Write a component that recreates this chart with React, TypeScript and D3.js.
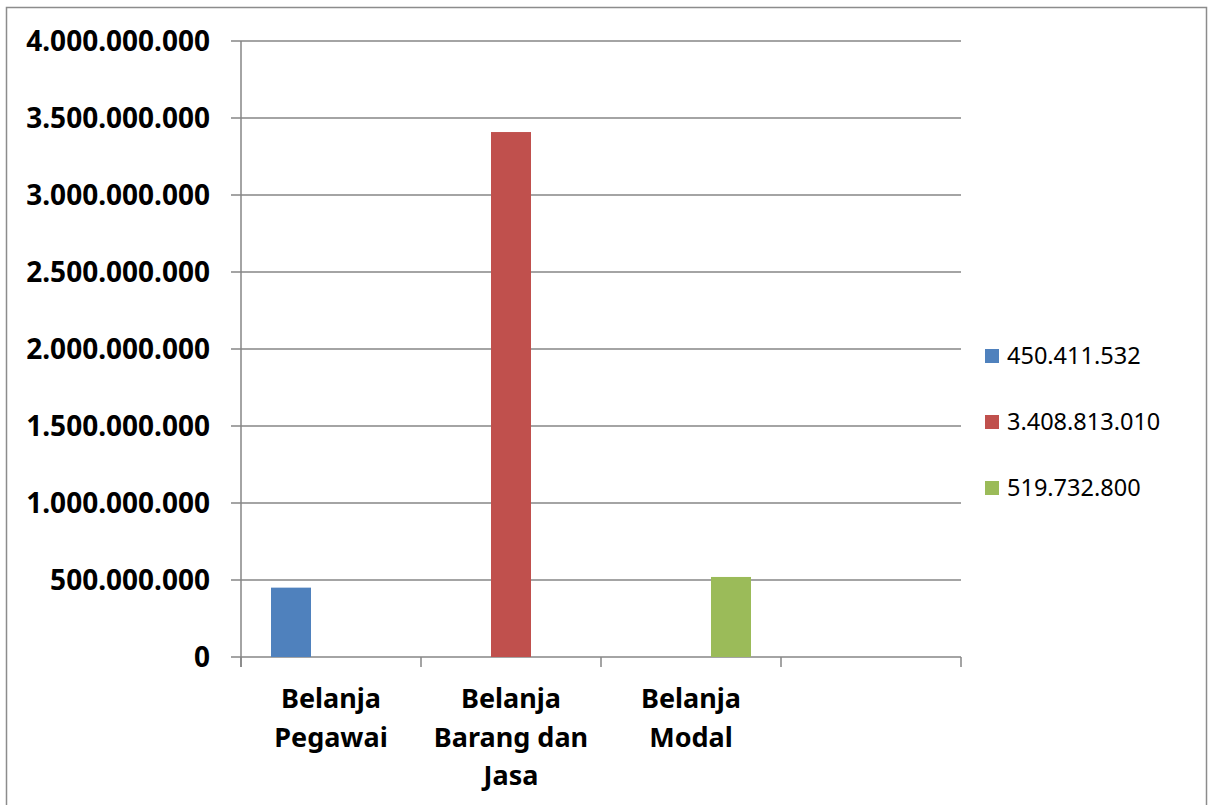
import React from 'react';
import * as d3 from 'd3';

const categories = ['Belanja Pegawai', 'Belanja Barang dan Jasa', 'Belanja Modal', ''];
const categoryLines = [['Belanja', 'Pegawai'], ['Belanja', 'Barang dan', 'Jasa'], ['Belanja', 'Modal'], []];
const seriesNames = ['450.411.532', '3.408.813.010', '519.732.800'];
// one value per series, each sitting in its own category
const seriesValues = [
  [450411532, null, null, null],
  [null, 3408813010, null, null],
  [null, null, 519732800, null],
];
const seriesColors = ['#4F81BD', '#C0504D', '#9BBB59'];
const yTicks = [0, 500000000, 1000000000, 1500000000, 2000000000, 2500000000, 3000000000, 3500000000, 4000000000];

const W = 1214;
const H = 805;
const plot = { left: 241, right: 961, top: 41, bottom: 657 };
const font = '"Noto Sans", "Open Sans", sans-serif';
const gridColor = '#868686';

const fmt = (v: number) => d3.format(',')(v).replace(/,/g, '.');

const App: React.FC = () => {
  const x = d3.scaleBand<string>()
    .domain(categories.map((c, i) => String(i)))
    .range([plot.left, plot.right])
    .paddingInner(0)
    .paddingOuter(0);

  // Excel gap width 150% -> half a gap (0.75 bar) on each side
  const inner = d3.scaleBand<string>()
    .domain(seriesNames.map((s, i) => String(i)))
    .range([0, x.bandwidth()])
    .paddingOuter(0.75)
    .paddingInner(0);

  const y = d3.scaleLinear().domain([0, 4000000000]).range([plot.bottom, plot.top]);

  const catEdges = d3.range(categories.length + 1).map((i) => plot.left + i * x.bandwidth());

  return (
    <svg width={W} height={H} style={{ position: 'absolute', left: 0, top: 0 }}>
      <rect x={0} y={0} width={W} height={H} fill="#fff" />
      <rect x={6.5} y={7.5} width={1200} height={H} fill="none" stroke="#8c8c8c" strokeWidth={1.5} />

      {yTicks.map((t) => (
        <g key={t}>
          <line x1={plot.left - 10} x2={plot.right} y1={y(t)} y2={y(t)} stroke={gridColor} strokeWidth={1.5} />
          <text x={210} y={y(t)} dy="0.36em" textAnchor="end" fontFamily={font} fontWeight="bold" fontSize={28} fill="#000">
            {fmt(t)}
          </text>
        </g>
      ))}

      <line x1={plot.left} x2={plot.left} y1={plot.top} y2={plot.bottom + 10} stroke={gridColor} strokeWidth={1.5} />
      {catEdges.map((e, i) => (
        <line key={i} x1={e} x2={e} y1={plot.bottom} y2={plot.bottom + 10} stroke={gridColor} strokeWidth={1.5} />
      ))}

      {seriesValues.map((vals, si) =>
        vals.map((v, ci) =>
          v == null ? null : (
            <rect
              key={`${si}-${ci}`}
              x={(x(String(ci)) ?? 0) + (inner(String(si)) ?? 0)}
              y={y(v)}
              width={inner.bandwidth()}
              height={plot.bottom - y(v)}
              fill={seriesColors[si]}
            />
          )
        )
      )}

      {categoryLines.map((lines, ci) => (
        <text key={ci} x={(x(String(ci)) ?? 0) + x.bandwidth() / 2} y={708} textAnchor="middle" fontFamily={font} fontWeight="bold" fontSize={27} fill="#000">
          {lines.map((l, li) => (
            <tspan key={li} x={(x(String(ci)) ?? 0) + x.bandwidth() / 2} dy={li === 0 ? 0 : 38.5}>
              {l}
            </tspan>
          ))}
        </text>
      ))}

      {seriesNames.map((s, i) => (
        <g key={s} transform={`translate(985, ${356 + i * 66})`}>
          <rect x={0} y={-7} width={14} height={14} fill={seriesColors[i]} />
          <text x={22} y={0} dy="0.36em" fontFamily={font} fontSize={23.5} fill="#000">
            {s}
          </text>
        </g>
      ))}
    </svg>
  );
};

export default App;
